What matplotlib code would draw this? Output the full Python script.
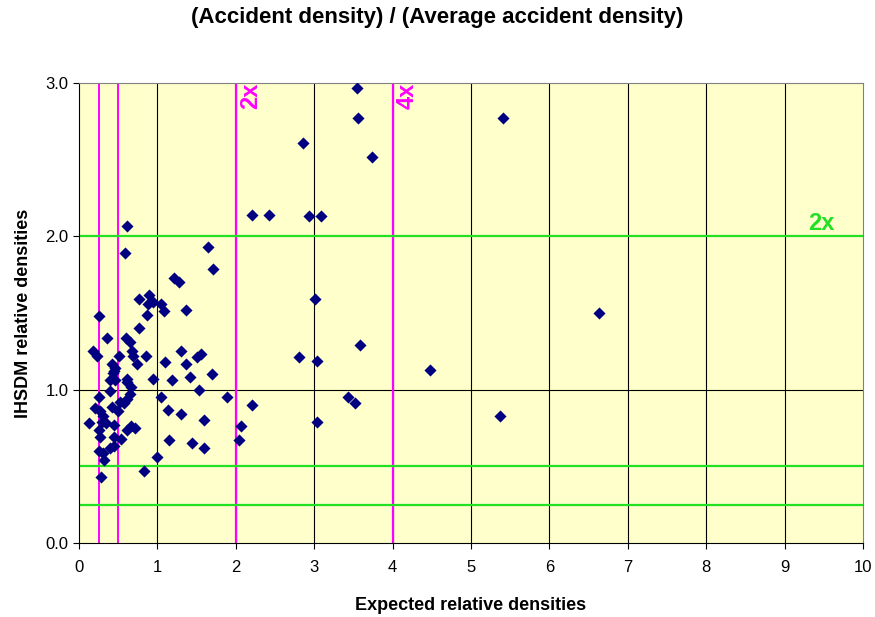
import matplotlib
matplotlib.use("Agg")
import matplotlib.pyplot as plt

# Expected relative density (x) vs IHSDM relative density (y)
x_vals = [
    5.41, 6.63, 4.48, 5.37,
    3.55, 3.56, 3.74, 2.86, 2.21, 2.42, 2.93, 3.09, 3.01, 3.58, 2.81, 3.04,
    3.43, 3.52, 3.04, 2.21, 2.07, 2.04, 1.89,
    1.64, 1.71, 1.21, 1.27, 1.36,
    0.61, 0.59, 0.26, 0.76, 0.89, 0.88, 0.94, 1.04, 1.08, 0.87,
    0.76, 0.36, 0.60, 0.65, 0.18, 0.23, 0.51, 0.67, 0.69, 0.85, 0.74,
    0.42, 0.46, 0.44, 1.10, 1.30, 1.36, 1.50, 1.56, 1.42, 1.70,
    0.61, 0.94, 1.19,
    0.43, 0.40, 0.46, 0.61, 0.66, 0.40, 1.53, 1.04, 0.25,
    0.65, 0.61, 0.57, 0.52, 0.50, 0.42, 0.20, 0.27, 0.31,
    1.13, 1.30, 1.59, 0.13, 0.29, 0.35, 0.44, 0.25, 0.27,
    0.61, 0.66, 0.71, 0.53, 0.44, 0.40, 0.44, 0.26, 0.30, 0.32,
    1.15, 1.44, 1.60, 1.00, 0.83, 0.28,
]
y_vals = [
    2.77, 1.50, 1.13, 0.83,
    2.97, 2.77, 2.52, 2.61, 2.14, 2.14, 2.13, 2.13, 1.59, 1.29, 1.21, 1.19,
    0.95, 0.91, 0.79, 0.90, 0.76, 0.67, 0.95,
    1.93, 1.79, 1.73, 1.70, 1.52,
    2.07, 1.89, 1.48, 1.59, 1.62, 1.56, 1.57, 1.56, 1.51, 1.49,
    1.40, 1.34, 1.34, 1.31, 1.25, 1.22, 1.22, 1.25, 1.22, 1.22, 1.17,
    1.17, 1.14, 1.12, 1.18, 1.25, 1.17, 1.21, 1.23, 1.08, 1.10,
    1.07, 1.07, 1.06,
    1.11, 1.06, 1.06, 1.05, 1.02, 0.99, 1.00, 0.95, 0.95,
    0.97, 0.94, 0.91, 0.92, 0.86, 0.89, 0.88, 0.86, 0.83,
    0.87, 0.84, 0.80, 0.78, 0.79, 0.78, 0.77, 0.74, 0.69,
    0.74, 0.76, 0.75, 0.68, 0.69, 0.62, 0.63, 0.60, 0.59, 0.54,
    0.67, 0.65, 0.62, 0.56, 0.47, 0.43,
]

# reference lines
vlines_x = [0.25, 0.5, 2, 4]
hlines_y = [0.25, 0.5, 2]
x_ticks = list(range(0, 11))
y_ticks = [0.0, 1.0, 2.0, 3.0]

plt.rcParams["font.family"] = ["Liberation Sans", "DejaVu Sans"]

fig = plt.figure(figsize=(8.75, 6.17), dpi=100)
ax = fig.add_axes([0.0903, 0.1199, 0.896, 0.7456])
ax.set_facecolor("#FFFFCC")

ax.set_xlim(0, 10)
ax.set_ylim(0, 3)

# grid lines
for gx in x_ticks[1:-1]:
    ax.axvline(gx, color="black", lw=0.8, zorder=1)
ax.axhline(1.0, color="black", lw=0.8, zorder=1)

# threshold lines
for vx in vlines_x:
    lw = 1.6 if vx >= 2 else 1.4
    ax.axvline(vx, color="#FF00FF", lw=lw, zorder=2)
for hy in hlines_y:
    ax.axhline(hy, color="#22E022", lw=1.6, zorder=2)

ax.scatter(x_vals, y_vals, marker="D", s=38, color="#000080", zorder=3, linewidths=0)

ax.text(2.04, 3.0, "2x", rotation=90, color="#FF00FF", fontsize=17,
        fontweight="bold", ha="left", va="top")
ax.text(4.04, 3.0, "4x", rotation=90, color="#FF00FF", fontsize=17,
        fontweight="bold", ha="left", va="top")
ax.text(9.3, 2.01, "2x", color="#22E022", fontsize=17, fontweight="bold",
        ha="left", va="bottom")

ax.set_xticks(x_ticks)
ax.set_yticks(y_ticks)
ax.set_yticklabels([f"{v:.1f}" for v in y_ticks])
ax.tick_params(axis="both", labelsize=12, length=4, color="black")
ax.tick_params(axis="x", pad=8)

for side in ["top", "right"]:
    ax.spines[side].set_color("#808080")
ax.spines["left"].set_color("black")
ax.spines["bottom"].set_color("black")

ax.set_xlabel("Expected relative densities", fontsize=13, fontweight="bold", labelpad=16)
ax.set_ylabel("IHSDM relative densities", fontsize=13, fontweight="bold", labelpad=10)

fig.suptitle("(Accident density) / (Average accident density)", fontsize=16,
             fontweight="bold", y=0.988)

fig.savefig("out.png", dpi=100)
